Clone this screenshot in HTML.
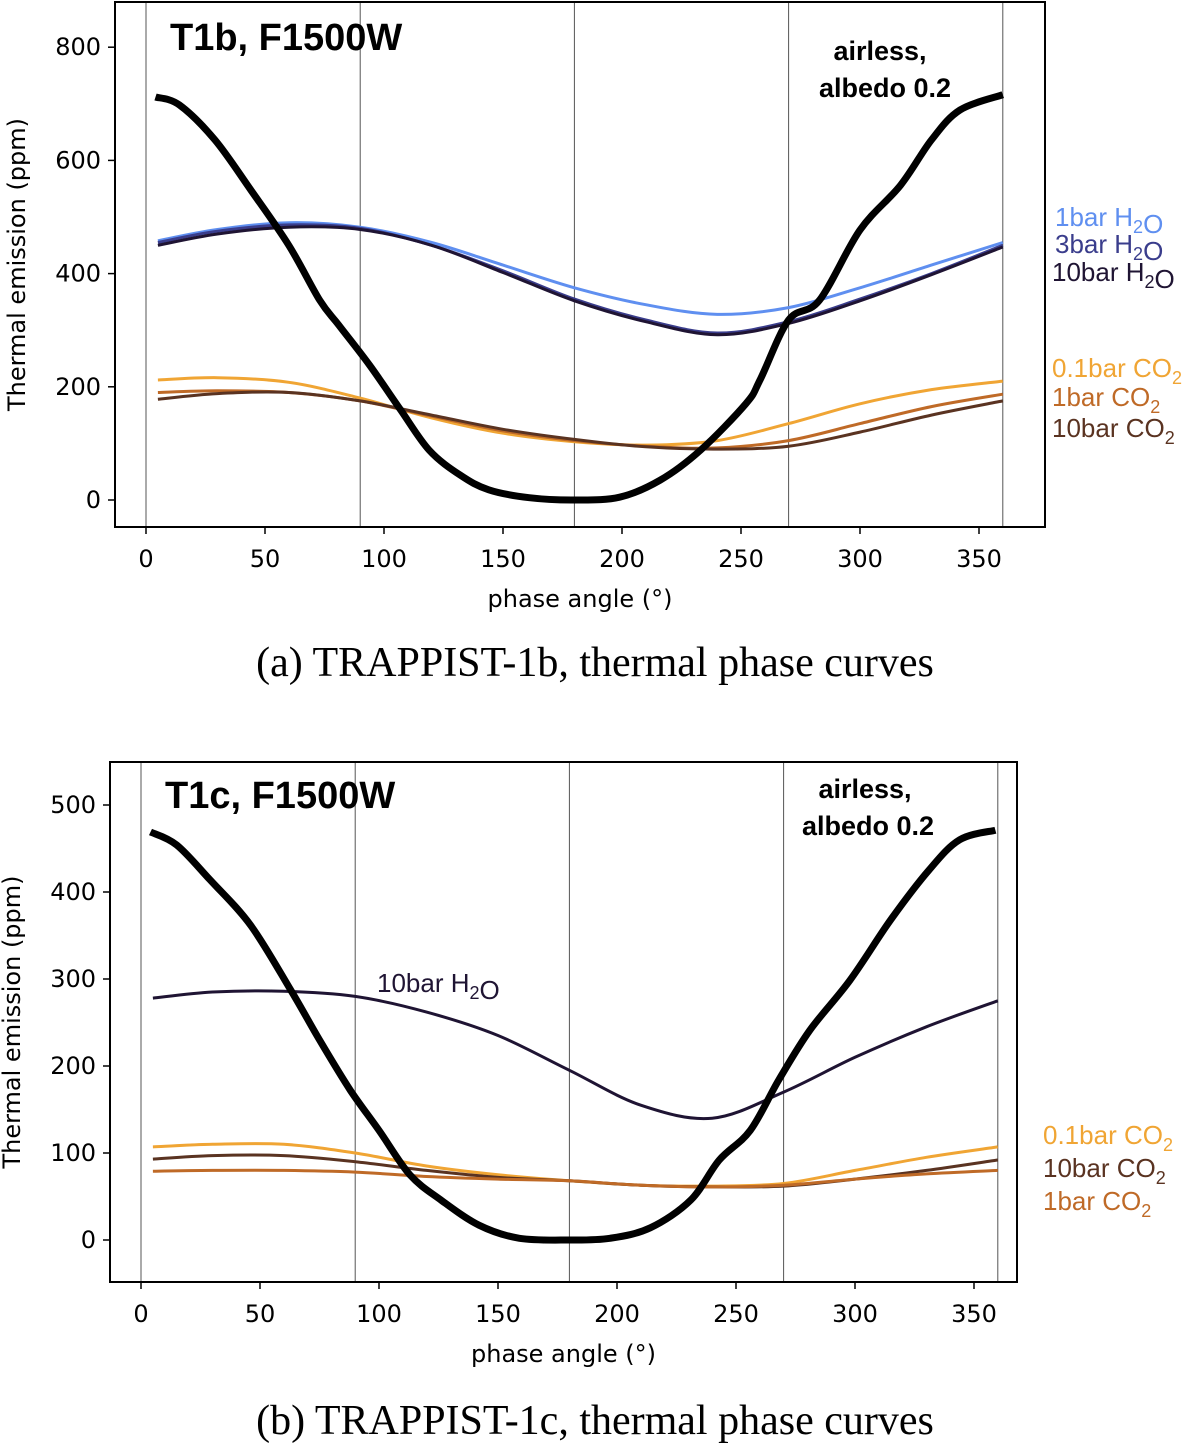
<!DOCTYPE html>
<html><head><meta charset="utf-8"><style>
html,body{margin:0;padding:0;background:#fff;}
svg{display:block;}
</style></head><body>
<svg id="fig" width="1200" height="1443" viewBox="0 0 1200 1443" xmlns="http://www.w3.org/2000/svg"></svg>
<script>
const NS="http://www.w3.org/2000/svg";
const svg=document.getElementById('fig');
const xTicks=[0,50,100,150,200,250,300,350];
const yTicksA=[0,200,400,600,800];
const yTicksB=[0,100,200,300,400,500];
const vLines=[0,90,180,270,360];
const phasesCurve=[5,30,60,90,120,150,180,210,240,270,300,330,360];
// panel a airless
const airPhA=[4,14,29,44,60,73,81,94,107,119,132,144,161,180,199,216,233,252,258,270,283,300,317,330,342,360];
const airValA=[712,698,636,548,450,353,309,238,159,88,44,18,4,0,5,35,88,170,212,318,353,477,556,636,689,716];
const h2o1A=[458,478,490,482,455,415,375,345,328,340,375,415,455];
const h2o3A=[455,475,486,480,450,405,355,318,295,315,355,400,450];
const h2o10A=[450,470,482,478,450,402,352,315,292,312,352,398,447];
const co201A=[212,216,208,180,145,118,103,97,105,135,170,195,210];
const co21A=[190,193,190,175,148,122,105,95,92,105,135,165,187];
const co210A=[178,188,190,175,150,125,107,94,90,95,120,150,175];
// panel b
const airPhB=[4,15,29,46,63,75,88,100,113,126,142,159,180,197,214,231,243,256,268,281,298,315,331,344,359];
const airValB=[469,454,414,362,287,230,172,126,75,46,17,2,0,2,14,46,92,126,184,241,299,368,425,460,471];
const h2o10B=[278,285,286,280,262,235,195,155,140,170,210,245,275];
const co201B=[107,110,110,100,85,75,68,63,62,65,80,95,107];
const co210B=[93,97,97,90,80,72,68,63,61,62,70,80,92];
const co21B=[79,80,80,78,73,70,68,63,61,63,70,76,80];

function el(tag,attrs,parent){const e=document.createElementNS(NS,tag);for(const k in attrs)e.setAttribute(k,attrs[k]);(parent||svg).appendChild(e);return e;}
function txt(s,attrs,parent){const t=el('text',attrs,parent);t.textContent=s;return t;}

function smoothPath(pts){
  let d='M'+pts[0][0].toFixed(1)+','+pts[0][1].toFixed(1);
  for(let i=0;i<pts.length-1;i++){
    const p0=pts[Math.max(0,i-1)],p1=pts[i],p2=pts[i+1],p3=pts[Math.min(pts.length-1,i+2)];
    const c1x=p1[0]+(p2[0]-p0[0])/6,c1y=p1[1]+(p2[1]-p0[1])/6;
    const c2x=p2[0]-(p3[0]-p1[0])/6,c2y=p2[1]-(p3[1]-p1[1])/6;
    d+=` C${c1x.toFixed(1)},${c1y.toFixed(1)} ${c2x.toFixed(1)},${c2y.toFixed(1)} ${p2[0].toFixed(1)},${p2[1].toFixed(1)}`;
  }
  return d;
}

function panel(cfg){
  const g=el('g',{});
  
  
  const X=v=>cfg.x0+v*cfg.xs, Y=v=>cfg.y0-v*cfg.ys;
  vLines.forEach(v=>{const l=el('line',{x1:X(v),x2:X(v),y1:cfg.top,y2:cfg.bot,stroke:'#555','stroke-width':1},g);
    });
  function line(ph,vals,color,w,nm){
    const pts=ph.map((p,i)=>[X(p),Y(vals[i])]);
    const p=el('path',{d:smoothPath(pts),fill:'none',stroke:color,'stroke-width':w,'stroke-linejoin':'round'},g);
    
  }
  cfg.series.forEach(s=>line(s.ph,s.v,s.c,s.w,s.n));
  const box=el('rect',{x:cfg.left,y:cfg.top,width:cfg.right-cfg.left,height:cfg.bot-cfg.top,fill:'none',stroke:'#000','stroke-width':2},g);
  
  xTicks.forEach(v=>{el('line',{x1:X(v),x2:X(v),y1:cfg.bot,y2:cfg.bot+7,stroke:'#000','stroke-width':1.5},g);
    const t=txt(v,{x:X(v),y:cfg.bot+40,'text-anchor':'middle','font-family':'DejaVu Sans, sans-serif','font-size':24},g);
    });
  cfg.yt.forEach(v=>{el('line',{x1:cfg.left-7,x2:cfg.left,y1:Y(v),y2:Y(v),stroke:'#000','stroke-width':1.5},g);
    const t=txt(v,{x:cfg.left-14,y:Y(v)+8,'text-anchor':'end','font-family':'DejaVu Sans, sans-serif','font-size':24},g);
    });
  const xl=txt('phase angle (°)',{x:(cfg.left+cfg.right)/2,y:cfg.bot+80,'text-anchor':'middle','font-family':'DejaVu Sans, sans-serif','font-size':24},g);
  
  const cy=(cfg.top+cfg.bot)/2;
  const yl=txt('Thermal emission (ppm)',{x:0,y:0,transform:`translate(${cfg.left-90},${cy}) rotate(-90)`,'text-anchor':'middle','font-family':'DejaVu Sans, sans-serif','font-size':24},g);
  
  return g;
}
panel({name:'panel-a-chart',left:115,right:1045,top:2,bot:527,x0:146,xs:2.38,y0:500,ys:0.566,yt:yTicksA,
 series:[
  {ph:phasesCurve,v:h2o1A,c:'#5f8ff0',w:3,n:'line-1bar-h2o'},
  {ph:phasesCurve,v:h2o3A,c:'#3a3d8c',w:3,n:'line-3bar-h2o'},
  {ph:phasesCurve,v:h2o10A,c:'#1f1433',w:3,n:'line-10bar-h2o'},
  {ph:phasesCurve,v:co201A,c:'#f0a534',w:3,n:'line-0.1bar-co2'},
  {ph:phasesCurve,v:co21A,c:'#bf6a27',w:3,n:'line-1bar-co2'},
  {ph:phasesCurve,v:co210A,c:'#5a3321',w:3,n:'line-10bar-co2'},
  {ph:airPhA,v:airValA,c:'#000',w:7,n:'line-airless'}]});
panel({name:'panel-b-chart',left:110,right:1017,top:762,bot:1282,x0:141,xs:2.38,y0:1240,ys:0.87,yt:yTicksB,
 series:[
  {ph:phasesCurve,v:h2o10B,c:'#1f1433',w:3,n:'line-10bar-h2o'},
  {ph:phasesCurve,v:co201B,c:'#f0a534',w:3,n:'line-0.1bar-co2'},
  {ph:phasesCurve,v:co210B,c:'#5a3321',w:3,n:'line-10bar-co2'},
  {ph:phasesCurve,v:co21B,c:'#bf6a27',w:3,n:'line-1bar-co2'},
  {ph:airPhB,v:airValB,c:'#000',w:7,n:'line-airless'}]});

function label(html,x,y,size,color,weight,anchor,name){
  const t=el('text',{x:x,y:y,'font-family':'Liberation Sans, Arial, sans-serif','font-size':size,fill:color,'font-weight':weight||'normal','text-anchor':anchor||'start'});
  t.innerHTML=html;
  
}
const sub=s=>`<tspan dy="7" font-size="18">${s}</tspan><tspan dy="-7"></tspan>`;
label('T1b, F1500W',170,50,38,'#000','bold','start','panel-a-title');
label('airless,',880,60,27,'#000','bold','middle','airless-label');
label('albedo 0.2',885,97,27,'#000','bold','middle','airless-label-2');
label('1bar H'+sub('2')+'O',1055,226,26,'#5f8ff0','normal','start','legend-1bar-h2o');
label('3bar H'+sub('2')+'O',1055,253,26,'#3a3d8c','normal','start','legend-3bar-h2o');
label('10bar H'+sub('2')+'O',1052,281,26,'#1f1433','normal','start','legend-10bar-h2o');
label('0.1bar CO'+sub('2'),1052,377,26,'#f0a534','normal','start','legend-0.1bar-co2');
label('1bar CO'+sub('2'),1052,406,26,'#bf6a27','normal','start','legend-1bar-co2');
label('10bar CO'+sub('2'),1052,437,26,'#5a3321','normal','start','legend-10bar-co2');

label('T1c, F1500W',165,808,38,'#000','bold','start','panel-b-title');
label('airless,',865,798,27,'#000','bold','middle','airless-label');
label('albedo 0.2',868,835,27,'#000','bold','middle','airless-label-2');
label('10bar H'+sub('2')+'O',377,992,26,'#1f1433','normal','start','annot-10bar-h2o');
label('0.1bar CO'+sub('2'),1043,1144,26,'#f0a534','normal','start','legend-0.1bar-co2');
label('10bar CO'+sub('2'),1043,1177,26,'#5a3321','normal','start','legend-10bar-co2');
label('1bar CO'+sub('2'),1043,1210,26,'#bf6a27','normal','start','legend-1bar-co2');

const c1=txt('(a) TRAPPIST-1b, thermal phase curves',{x:595,y:676,'text-anchor':'middle','font-family':'Liberation Serif, serif','font-size':42});

const c2=txt('(b) TRAPPIST-1c, thermal phase curves',{x:595,y:1434,'text-anchor':'middle','font-family':'Liberation Serif, serif','font-size':42});

</script>
</body></html>
